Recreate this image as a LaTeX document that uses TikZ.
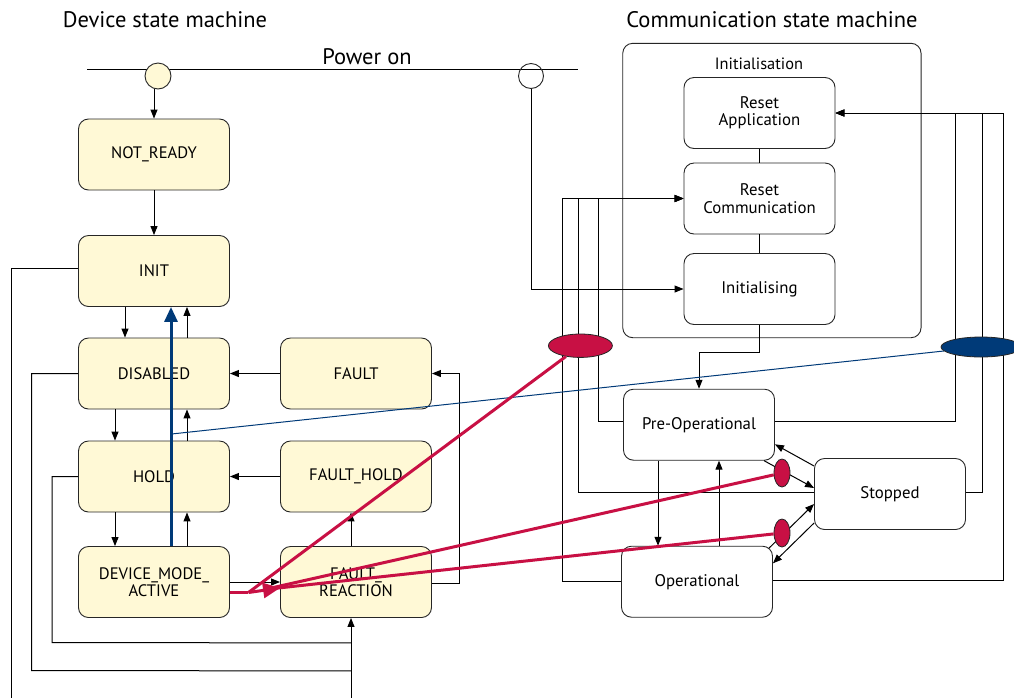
\documentclass[tikz,border=0pt]{standalone}
\usepackage{fontspec}
\setmainfont{PT Sans}
\usetikzlibrary{arrows.meta,calc,shapes.geometric}
\definecolor{boxfill}{RGB}{255,249,214}
\definecolor{redc}{RGB}{200,16,68}
\definecolor{bluec}{RGB}{0,58,120}
\begin{document}
\begin{tikzpicture}[x=1pt,y=-1pt,
  state/.style={draw=black!85, line width=0.9pt, rounded corners=10pt, minimum width=151pt, minimum height=71pt, align=center, inner sep=0pt, font=\fontsize{16.6}{17}\selectfont},
  dstate/.style={state, fill=boxfill},
  cstate/.style={state, fill=white, font=\fontsize{16.8}{17.3}\selectfont},
  conn/.style={line width=1pt, black},
  arr/.style={conn, -{Triangle[length=9pt,width=7pt]}},
  redl/.style={redc, line width=3pt},
  title/.style={font=\fontsize{22.5}{24}\selectfont, inner sep=0pt},
  oval/.style={ellipse, draw=black!85, line width=0.8pt, inner sep=0pt}]
\fill[white] (0,0) rectangle (1014,697);
\useasboundingbox (0,0) rectangle (1014,697);

% titles
\node[title] (t1) at (165,20) {Device state machine};
\node[title] (t2) at (772,20) {Communication state machine};
\node[title] (pon) at (367,57) {Power on};

% power line
\coordinate (pl) at (87,69);
\coordinate (pr) at (578,69);
\draw[line width=1pt] (pl) -- (pr);
\node[circle, draw=black!85, line width=0.9pt, fill=boxfill, minimum size=26pt, inner sep=0pt] (cL) at (158,76) {};
\node[circle, draw=black!85, line width=0.9pt, minimum size=25pt, inner sep=0pt] (cR) at (531,76) {};

% device states
\node[dstate] (NR) at (154,154.5) {NOT\_READY};
\node[dstate] (INIT) at (154,271) {INIT};
\node[dstate] (DIS) at (154,373.5) {DISABLED};
\node[dstate] (HOLD) at (154,476.5) {HOLD};
\node[dstate] (DMA) at (154,582) {DEVICE\_MODE\_\\ACTIVE};
\node[dstate] (FAULT) at (356,373.5) {FAULT};
\node[dstate] (FH) at (356,476.5) {FAULT\_HOLD};
\node[dstate] (FR) at (356,582) {FAULT\_\\REACTION};

% communication states
\node[draw=black!85, line width=0.9pt, rounded corners=10pt, minimum width=298.3pt, minimum height=294.4pt, inner sep=0pt] (IB) at (771.9,190.5) {};
\node[font=\fontsize{16.4}{17}\selectfont, inner sep=0pt] (IBl) at (759,64) {Initialisation};
\node[cstate] (RA) at (759.5,113) {Reset\\Application};
\node[cstate] (RC) at (759.5,198.5) {Reset\\Communication};
\node[cstate] (IN2) at (759.5,289) {Initialising};
\node[cstate] (PreOp) at (699,424.7) {Pre-Operational};
\node[cstate] (Op) at (697,581.7) {Operational};
\node[cstate] (Stop) at (890,494) {Stopped};

% device connectors
\draw[arr] (cL.south -| NR.north) -- (NR.north);
\draw[arr] (NR.south) -- (INIT.north);
\draw[arr] ($(INIT.south)+(-29,0)$) -- ($(DIS.north)+(-29,0)$);
\draw[arr] ($(DIS.north)+(33,0)$) -- ($(INIT.south)+(33,0)$);
\draw[arr] ($(DIS.south)+(-39,0)$) -- ($(HOLD.north)+(-39,0)$);
\draw[arr] ($(HOLD.north)+(33,0)$) -- ($(DIS.south)+(33,0)$);
\draw[arr] ($(HOLD.south)+(-39,0)$) -- ($(DMA.north)+(-39,0)$);
\draw[arr] ($(DMA.north)+(33,0)$) -- ($(HOLD.south)+(33,0)$);
\draw[arr] (FAULT.west) -- (DIS.east);
\draw[arr] (FH.west) -- (HOLD.east);
\draw[arr] (DMA.east) -- (FR.west);
\draw[arr] ($(FR.north)+(-5,0)$) -- ($(FH.south)+(-5,0)$);
\draw[arr] ($(FR.east)+(0,1)$) -| ($(FAULT.east)+(28,0)$) -- (FAULT.east);
\draw[arr] ($(FR.south)+(-5,85)$) -- ($(FR.south)+(-5,0)$);
\draw[conn] ($(INIT.west)+(0,-2.5)$) -| ($(INIT.west)+(-67,435)$);
\draw[conn] (DIS.west) -| ($(DIS.west)+(-46.5,297)$) -- ($(FR.south)+(-5,53)$);
\draw[conn] (HOLD.west) -| ($(HOLD.west)+(-26,166)$) -- ($(FR.south)+(-5,25)$);

% communication connectors
\draw[arr] (cR.south) |- (IN2.west);
\draw[conn] (RA.south) -- (RC.north);
\draw[conn] (RC.south) -- (IN2.north);
\draw[arr] (IN2.south) -- ++(0,27.7) -| (PreOp.north);
\draw[arr] (Op.west) -| ($(RC.west)+(-121,0)$) -- (RC.west);
\draw[arr] ($(Stop.west)+(0,-1.5)$) -| ($(RC.west)+(-105,0)$) -- (RC.west);
\draw[arr] ($(PreOp.west)+(0,-3)$) -| ($(RC.west)+(-85,0)$) -- (RC.west);
\draw[arr] ($(PreOp.east)+(0,-3)$) -| ($(RA.east)+(120,0)$) -- (RA.east);
\draw[arr] ($(Stop.east)+(0,-1.5)$) -| ($(RA.east)+(147,0)$) -- (RA.east);
\draw[arr] ($(Op.east)+(0,-1)$) -| ($(RA.east)+(168,0)$) -- (RA.east);
\draw[arr] ($(PreOp.south)+(-41,0)$) -- ($(Op.north)+(-39,0)$);
\draw[arr] ($(Op.north)+(22,0)$) -- ($(PreOp.south)+(20,0)$);
\draw[arr] ($(Stop.west)+(0,-28)$) -- ($(PreOp.east)+(0,19.6)$);
\draw[arr] ($(PreOp.south)+(65,0)$) -- ($(Stop.west)+(0,-6)$);
\draw[arr] ($(Op.north)+(72,2.4)$) -- ($(Stop.west)+(0,10)$);
\draw[arr] ($(Stop.west)+(0,29)$) -- ($(Op.east)+(0,-18.4)$);

% ellipses
\node[oval, fill=redc, minimum width=64pt, minimum height=23.4pt] (RE) at (580.4,345.7) {};
\node[oval, fill=bluec, minimum width=80pt, minimum height=20pt] (BE) at (981,347) {};
\node[oval, fill=redc, minimum width=16pt, minimum height=28pt] (se1) at (782,473) {};
\node[oval, fill=redc, minimum width=16pt, minimum height=28pt] (se2) at (782,533) {};

% blue
\draw[bluec, line width=3pt, -{Triangle[length=15pt,width=13pt]}] ($(DMA.north)+(17,0)$) -- ($(INIT.south)+(17,0)$);
\coordinate (bj) at ($(DMA.north)+(17,-112)$);
\draw[bluec, line width=1pt] (BE) -- (bj);

% red
\coordinate (rm) at ($(DMA.east)+(18.5,10.5)$);
\coordinate (rh) at ($(rm)+(16,-3)$);
\draw[redl] ($(DMA.east)+(0,10.5)$) -- (rm);
\draw[redl] (RE) -- (rm);
\draw[redl] (se1) -- (rh);
\draw[redl] (se2) -- (rh);
\draw[redl, -{Triangle[length=17pt,width=15pt]}] (rm) -- ($(FR.west)+(0,6)$);
\end{tikzpicture}
\end{document}
